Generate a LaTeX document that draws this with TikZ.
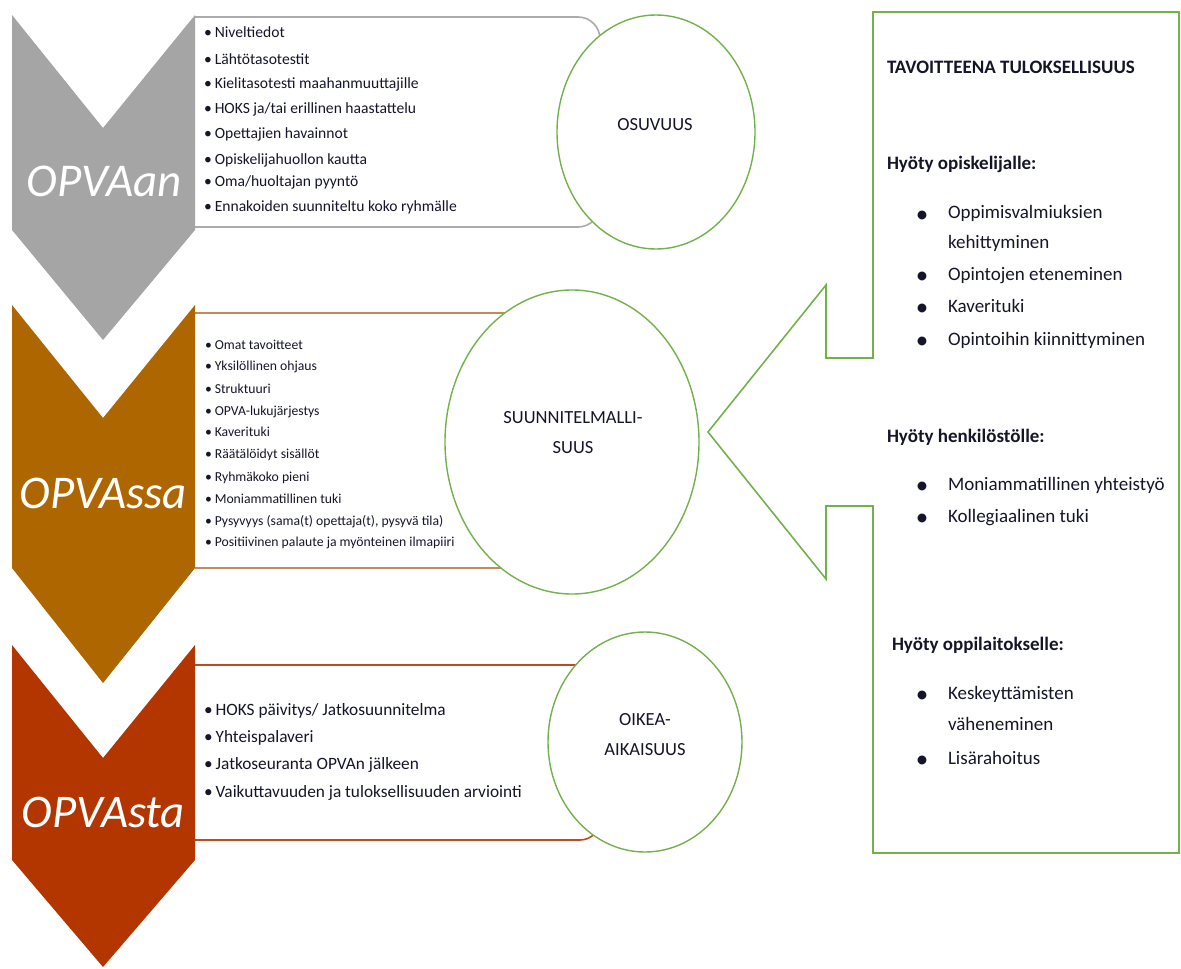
\documentclass[tikz,border=0pt]{standalone}
\usepackage{fontspec}
\usepackage{graphicx}
\setmainfont{Carlito}
\usetikzlibrary{shapes.geometric}
\definecolor{cgray}{HTML}{A5A5A5}
\definecolor{corange}{HTML}{AE6600}
\definecolor{cred}{HTML}{B33600}
\definecolor{cgreen}{HTML}{74B04C}
\definecolor{ctext}{HTML}{15152A}
\definecolor{cgraybox}{HTML}{ABABAB}
\definecolor{corangebox}{HTML}{C58A55}
\definecolor{credbox}{HTML}{C04A1E}
\tikzset{
  every node/.style={inner sep=0pt, outer sep=0pt, text=ctext},
  chevlabel/.style={text=white, font=\itshape},
  listbox/.style={line width=1.6pt, rounded corners=22pt},
  bubble/.style={ellipse, draw=cgreen, fill=white, line width=1.4pt},
  bubbletext/.style={font=\fontsize{18.5}{21}\selectfont},
  glist/.style={anchor=mid west, font=\fontsize{15.6}{18}\selectfont},
  olist/.style={anchor=mid west, font=\fontsize{13.7}{16}\selectfont},
  rlist/.style={anchor=mid west, font=\fontsize{17.3}{20}\selectfont},
  phead/.style={anchor=mid west, font=\fontsize{19}{22}\selectfont\bfseries},
  pitem/.style={anchor=mid west, font=\fontsize{19}{22}\selectfont},
  pbullet/.style={anchor=center, font=\fontsize{25}{28}\selectfont},
  callout/.style={draw=cgreen, line width=1.6pt, line join=miter}
}
\begin{document}
\begin{tikzpicture}[x=1pt, y=-1pt]
\useasboundingbox (0,0) rectangle (1181,969);
% list boxes
\draw[listbox, draw=cgraybox] (195,17) -- (600,17) -- (600,227) -- (195,227);
\draw[listbox, draw=corangebox] (195,313) -- (560,313) -- (560,568) -- (195,568);
\draw[listbox, draw=credbox, rounded corners=20pt] (195,665) -- (600,665) -- (600,840) -- (195,840);
% chevrons
\fill[cgray] (12,15) -- (103,128) -- (195,15) -- (195,230) -- (103,340) -- (12,230) -- cycle;
\fill[corange] (12,305) -- (103,418) -- (195,305) -- (195,568) -- (103,683) -- (12,568) -- cycle;
\fill[cred] (12,645) -- (103,758) -- (195,645) -- (195,860) -- (103,967) -- (12,860) -- cycle;
\node[chevlabel] (lab1) at (104.5,181) {\resizebox{155pt}{!}{OPVAan}};
\node[chevlabel] (lab2) at (103.5,493.5) {\resizebox{167pt}{!}{OPVAssa}};
\node[chevlabel] (lab3) at (103.5,812.5) {\resizebox{163pt}{!}{OPVAsta}};
% gray list
\node[glist] (g1) at (204,35) {\textbullet\hspace{3pt}Niveltiedot};
\node[glist] (g2) at (204,62) {\textbullet\hspace{3pt}Lähtötasotestit};
\node[glist] (g3) at (204,86) {\textbullet\hspace{3pt}Kielitasotesti maahanmuuttajille};
\node[glist] (g4) at (204,111) {\textbullet\hspace{3pt}HOKS ja/tai erillinen haastattelu};
\node[glist] (g5) at (204,136) {\textbullet\hspace{3pt}Opettajien havainnot};
\node[glist] (g6) at (204,162) {\textbullet\hspace{3pt}Opiskelijahuollon kautta};
\node[glist] (g7) at (204,184) {\textbullet\hspace{3pt}Oma/huoltajan pyyntö};
\node[glist] (g8) at (204,209) {\textbullet\hspace{3pt}Ennakoiden suunniteltu koko ryhmälle};
% orange list
\node[olist] (o1) at (205,347) {\textbullet\hspace{3pt}Omat tavoitteet};
\node[olist] (o2) at (205,368) {\textbullet\hspace{3pt}Yksilöllinen ohjaus};
\node[olist] (o3) at (205,391) {\textbullet\hspace{3pt}Struktuuri};
\node[olist] (o4) at (205,413) {\textbullet\hspace{3pt}OPVA-lukujärjestys};
\node[olist] (o5) at (205,434) {\textbullet\hspace{3pt}Kaverituki};
\node[olist] (o6) at (205,456) {\textbullet\hspace{3pt}Räätälöidyt sisällöt};
\node[olist] (o7) at (205,479) {\textbullet\hspace{3pt}Ryhmäkoko pieni};
\node[olist] (o8) at (205,501) {\textbullet\hspace{3pt}Moniammatillinen tuki};
\node[olist] (o9) at (205,523) {\textbullet\hspace{3pt}Pysyvyys (sama(t) opettaja(t), pysyvä tila)};
\node[olist] (o10) at (205,544) {\textbullet\hspace{3pt}Positiivinen palaute ja myönteinen ilmapiiri};
% red list
\node[rlist] (r1) at (204,713) {\textbullet\hspace{3pt}HOKS päivitys/ Jatkosuunnitelma};
\node[rlist] (r2) at (204,740) {\textbullet\hspace{3pt}Yhteispalaveri};
\node[rlist] (r3) at (204,767) {\textbullet\hspace{3pt}Jatkoseuranta OPVAn jälkeen};
\node[rlist] (r4) at (204,795) {\textbullet\hspace{3pt}Vaikuttavuuden ja tuloksellisuuden arviointi};
% bubbles
\node[bubble, minimum width=198pt, minimum height=234pt] (osu) at (656,132) {};
\node[bubble, minimum width=254pt, minimum height=304pt] (suu) at (572,442) {};
\node[bubble, minimum width=194pt, minimum height=220pt] (oik) at (645,742) {};
\node[bubbletext] (osut) at (655,125) {OSUVUUS};
\node[bubbletext] (suut1) at (573,418) {SUUNNITELMALLI-};
\node[bubbletext] (suut2) at (573,448) {SUUS};
\node[bubbletext] (oikt1) at (645,720) {OIKEA-};
\node[bubbletext] (oikt2) at (645,750) {AIKAISUUS};
% callout
\draw[callout] (873,12) -- (1179,12) -- (1179,853) -- (873,853) -- (873,506) -- (826,506) -- (826,579) -- (708,432) -- (826,285) -- (826,358) -- (873,358) -- cycle;
\node[phead] (t0) at (887,71) {TAVOITTEENA TULOKSELLISUUS};
\node[phead] (h1) at (887,167) {Hyöty opiskelijalle:};
\node[pbullet] (b1) at (922,217) {\textbullet};
\node[pitem] (i1) at (948,216) {Oppimisvalmiuksien};
\node[pitem] (i1b) at (948,246) {kehittyminen};
\node[pbullet] (b2) at (922,278) {\textbullet};
\node[pitem] (i2) at (948,278) {Opintojen eteneminen};
\node[pbullet] (b3) at (922,310) {\textbullet};
\node[pitem] (i3) at (948,310) {Kaverituki};
\node[pbullet] (b4) at (922,343) {\textbullet};
\node[pitem] (i4) at (948,343) {Opintoihin kiinnittyminen};
\node[phead] (h2) at (887,440) {Hyöty henkilöstölle:};
\node[pbullet] (b5) at (922,488) {\textbullet};
\node[pitem] (i5) at (948,488) {Moniammatillinen yhteistyö};
\node[pbullet] (b6) at (922,520) {\textbullet};
\node[pitem] (i6) at (948,520) {Kollegiaalinen tuki};
\node[phead] (h3) at (892,648) {Hyöty oppilaitokselle:};
\node[pbullet] (b7) at (922,697) {\textbullet};
\node[pitem] (i7) at (948,697) {Keskeyttämisten};
\node[pitem] (i7b) at (948,728) {väheneminen};
\node[pbullet] (b8) at (922,762) {\textbullet};
\node[pitem] (i8) at (948,762) {Lisärahoitus};
\end{tikzpicture}
\end{document}
